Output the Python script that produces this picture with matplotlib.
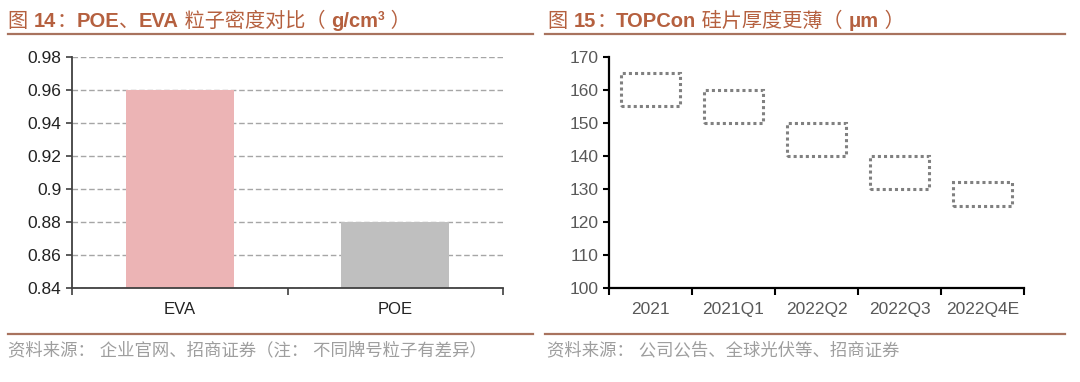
import matplotlib

matplotlib.use("Agg")
import matplotlib.pyplot as plt
import numpy as np
from matplotlib.lines import Line2D

plt.rcParams["font.family"] = ["Liberation Sans", "Noto Sans CJK SC", "DejaVu Sans"]

# 图 14 数据
materiales = ["EVA", "POE"]
densidad = [0.96, 0.88]
colores_barra = ["#ECB4B5", "#BFBFBF"]
densidad_ticks = [0.84, 0.86, 0.88, 0.9, 0.92, 0.94, 0.96, 0.98]
densidad_labels = ["0.84", "0.86", "0.88", "0.9", "0.92", "0.94", "0.96", "0.98"]

# 图 15 数据
periodos = ["2021", "2021Q1", "2022Q2", "2022Q3", "2022Q4E"]
espesor_min = [155, 150, 140, 130, 125]
espesor_max = [165, 160, 150, 140, 132]

COLOR_TITULO = "#B5603F"
COLOR_LINEA = "#A8735E"
COLOR_FUENTE = "#9E9E9E"

fig = plt.figure(figsize=(10.8, 3.82), dpi=100)
W, H = 1080, 382


def fx(px):
    return px / W


def fy(py):
    return 1 - py / H


def titulo_mixto(x_px, y_px, partes, size=14.5):
    renderer = fig.canvas.get_renderer()
    x = fx(x_px)
    for texto, peso, dy, escala in partes:
        t = fig.text(x, fy(y_px + dy), texto, color=COLOR_TITULO, fontsize=size * escala,
                     fontweight=peso, va="baseline", ha="left")
        bb = t.get_window_extent(renderer=renderer)
        x += bb.width / W


titulo_mixto(8, 27, [("图 ", "normal", 0, 1), ("14", "bold", 0, 1), ("：", "normal", 0, 1),
                     ("POE", "bold", 0, 1), ("、", "normal", 0, 1), ("EVA", "bold", 0, 1),
                     (" 粒子密度对比（ ", "normal", 0, 1), ("g/cm", "bold", 0, 1),
                     ("3", "bold", -7, 0.6), (" ）", "normal", 0, 1)])
titulo_mixto(548, 27, [("图 ", "normal", 0, 1), ("15", "bold", 0, 1), ("：", "normal", 0, 1),
                       ("TOPCon", "bold", 0, 1), (" 硅片厚度更薄（ ", "normal", 0, 1),
                       ("μm", "bold", 0, 1), (" ）", "normal", 0, 1)])

for x0, x1 in [(8, 533), (545, 1065)]:
    fig.add_artist(Line2D([fx(x0), fx(x1)], [fy(34), fy(34)], color=COLOR_LINEA, lw=1.6))
    fig.add_artist(Line2D([fx(x0), fx(x1)], [fy(334), fy(334)], color=COLOR_LINEA, lw=1.6))

fig.text(fx(8), fy(350), "资料来源： 企业官网、招商证券（注： 不同牌号粒子有差异）",
         color=COLOR_FUENTE, fontsize=12.5, va="center", ha="left")
fig.text(fx(547), fy(350), "资料来源： 公司公告、全球光伏等、招商证券",
         color=COLOR_FUENTE, fontsize=12.5, va="center", ha="left")

# ---- 图 14 ----
ax1 = fig.add_axes([fx(72), fy(288), fx(503) - fx(72), fy(56.7) - fy(288)])
x1 = np.arange(len(materiales))
ax1.bar(x1, np.array(densidad) - 0.84, bottom=0.84, width=0.5, color=colores_barra, zorder=2)
ax1.set_ylim(0.84, 0.98)
ax1.set_xlim(-0.5, len(materiales) - 0.5)
ax1.set_yticks(densidad_ticks)
ax1.set_yticklabels(densidad_labels)
ax1.yaxis.grid(True, color="#A6A6A6", linestyle=(0, (4, 2)), lw=1, zorder=1)
ax1.set_axisbelow(True)
ax1.set_xticks(x1)
ax1.set_xticklabels(materiales)
ax1.set_xticks(np.arange(len(materiales) + 1) - 0.5, minor=True)
ax1.tick_params(axis="x", which="major", length=0, pad=10, labelsize=12, labelcolor="#222222")
ax1.tick_params(axis="x", which="minor", length=5, width=1.2, color="#404040")
ax1.tick_params(axis="y", length=4, width=1.2, color="#404040", labelsize=12.5, labelcolor="#222222")
for s in ["top", "right"]:
    ax1.spines[s].set_visible(False)
for s in ["left", "bottom"]:
    ax1.spines[s].set_color("#404040")
    ax1.spines[s].set_linewidth(1.3)

# ---- 图 15 ----
ax2 = fig.add_axes([fx(609), fy(288.3), fx(1024) - fx(609), fy(56.7) - fy(288.3)])
x2 = np.arange(len(periodos))
ax2.bar(x2, np.array(espesor_max) - np.array(espesor_min), bottom=espesor_min, width=0.72,
        fill=False, edgecolor="#808080", linewidth=2.2, linestyle=(0, (1, 1)))
ax2.set_ylim(100, 170)
ax2.set_xlim(-0.5, len(periodos) - 0.5)
ax2.set_yticks(np.arange(100, 171, 10))
ax2.set_xticks(x2)
ax2.set_xticklabels(periodos)
ax2.set_xticks(np.arange(len(periodos) + 1) - 0.5, minor=True)
ax2.tick_params(axis="x", which="major", length=0, pad=10, labelsize=12.5, labelcolor="#595959")
ax2.tick_params(axis="x", which="minor", length=5, width=1.5, color="black")
ax2.tick_params(axis="y", length=4, width=1.5, color="black", labelsize=12.5, labelcolor="#595959")
for s in ["top", "right"]:
    ax2.spines[s].set_visible(False)
for s in ["left", "bottom"]:
    ax2.spines[s].set_color("black")
    ax2.spines[s].set_linewidth(1.6)

fig.savefig("out.png", dpi=100)
